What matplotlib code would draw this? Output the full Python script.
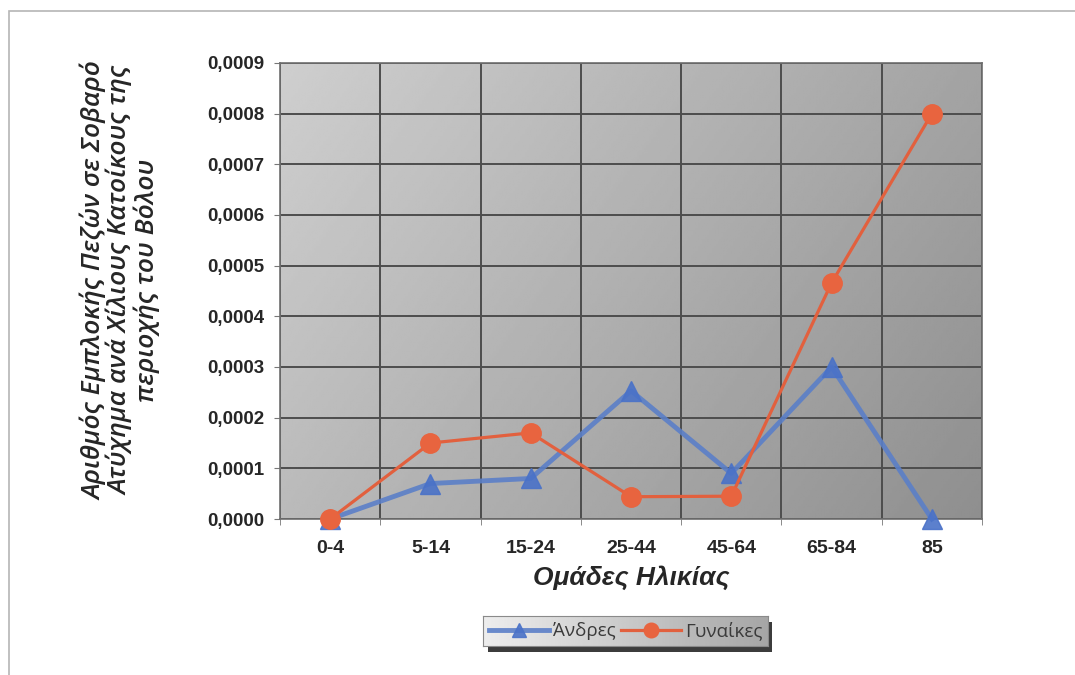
import numpy as np
import matplotlib.pyplot as plt
from matplotlib.patches import Rectangle
from matplotlib.ticker import FuncFormatter, MultipleLocator

# ομάδες ηλικίας και δείκτες ανά χίλιους κατοίκους
ages = ['0-4', '5-14', '15-24', '25-44', '45-64', '65-84', '85']
men = [0.0, 0.00007, 0.00008, 0.000253, 0.00009, 0.0003, 0.0]
women = [0.0, 0.00015, 0.00017, 0.000044, 0.000045, 0.000466, 0.0008]

fig = plt.figure(figsize=(10.75, 6.75), dpi=100)
fig.patch.set_facecolor('white')

# λεπτό πλαίσιο γύρω από το σχήμα
fig.add_artist(Rectangle((0.008, -0.05), 1.1, 1.034, transform=fig.transFigure,
                         fill=False, edgecolor='#b5b5b5', linewidth=1.2))

ax = fig.add_axes([0.2605, 0.2311, 0.653, 0.6756])
x = np.arange(len(ages))

# γκρι διαβάθμιση στο φόντο της περιοχής σχεδίασης
gx, gy = np.meshgrid(np.linspace(0, 1, 300), np.linspace(0, 1, 200))
shade = 0.81 - 0.17 * gx - 0.08 * gy
ax.imshow(shade, cmap='gray', vmin=0, vmax=1, extent=(-0.5, 6.5, 0, 0.0009),
          aspect='auto', origin='upper', zorder=0, interpolation='bilinear')

ax.set_xlim(-0.5, 6.5)
ax.set_ylim(0, 0.0009)
ax.yaxis.set_major_locator(MultipleLocator(0.0001))
ax.set_xticks(x)
ax.set_xticks(np.arange(-0.5, 7, 1), minor=True)
ax.set_xticklabels(ages)
ax.yaxis.set_major_formatter(FuncFormatter(lambda v, p: f'{v:.4f}'.replace('.', ',')))

ax.grid(True, axis='y', which='major', color='#4d4d4d', linewidth=1.4, zorder=1)
ax.grid(True, axis='x', which='minor', color='#4d4d4d', linewidth=1.4, zorder=1)
ax.tick_params(axis='x', which='major', length=0, pad=15)
ax.tick_params(axis='x', which='minor', length=4, color='#777777')
ax.tick_params(axis='y', length=4, color='#777777', pad=7)
for lbl in ax.get_yticklabels():
    lbl.set_fontfamily('Liberation Sans')
    lbl.set_fontweight('bold')
    lbl.set_fontsize(13.5)
    lbl.set_color('#262626')
for lbl in ax.get_xticklabels():
    lbl.set_fontfamily('Liberation Sans')
    lbl.set_fontweight('bold')
    lbl.set_fontsize(14)
    lbl.set_color('#262626')
for s in ax.spines.values():
    s.set_color('#6e6e6e')
    s.set_linewidth(1.2)

ax.plot(x, men, color='#5b7fc8', linewidth=3.5, marker='^', markersize=14,
        markerfacecolor='#4a72c8', markeredgecolor='#4a72c8', label='Άνδρες',
        zorder=3, clip_on=False, alpha=0.9)
ax.plot(x, women, color='#e2603e', linewidth=2.3, marker='o', markersize=14,
        markerfacecolor='#e8643f', markeredgecolor='#e8643f', label='Γυναίκες',
        zorder=4, clip_on=False)

ax.set_xlabel('Ομάδες Ηλικίας', fontfamily='Liberation Sans', fontsize=19,
              fontweight='bold', fontstyle='italic', color='#262626', labelpad=6)

fig.text(0.112, 0.585, 'Αριθμός Εμπλοκής Πεζών σε Σοβαρό\nΑτύχημα ανά Χίλιους Κατοίκους της\nπεριοχής του Βόλου',
         rotation=90, ha='center', va='center', multialignment='center',
         fontfamily='Open Sans', fontstyle='italic', fontweight='semibold',
         fontsize=19, color='#262626', linespacing=1.0)

leg = fig.legend(loc='center', bbox_to_anchor=(0.582, 0.065), ncol=2,
                 prop={'family': 'Open Sans', 'size': 13.5}, frameon=True,
                 fancybox=False, edgecolor='#8a8a8a', handlelength=3.2,
                 columnspacing=0.3, handletextpad=0.2, borderpad=0.3,
                 markerscale=0.75)
leg.get_frame().set_alpha(0)
for t in leg.get_texts():
    t.set_color('#3a3a3a')

# διαβάθμιση και σκιά πίσω από το υπόμνημα
fig.canvas.draw()
bb = leg.get_window_extent().transformed(fig.transFigure.inverted())
fig.add_artist(Rectangle((bb.x0 + 0.004, bb.y0 - 0.008), bb.width, bb.height,
                         transform=fig.transFigure, facecolor='#3c3c3c',
                         edgecolor='none', zorder=-2))
lax = fig.add_axes([bb.x0, bb.y0, bb.width, bb.height], zorder=-1)
lax.imshow(np.linspace(0.93, 0.65, 200)[None, :], cmap='gray', vmin=0, vmax=1,
           aspect='auto', extent=(0, 1, 0, 1))
lax.set_xticks([])
lax.set_yticks([])
for s in lax.spines.values():
    s.set_color('#8a8a8a')

fig.savefig('out.png', dpi=100)
